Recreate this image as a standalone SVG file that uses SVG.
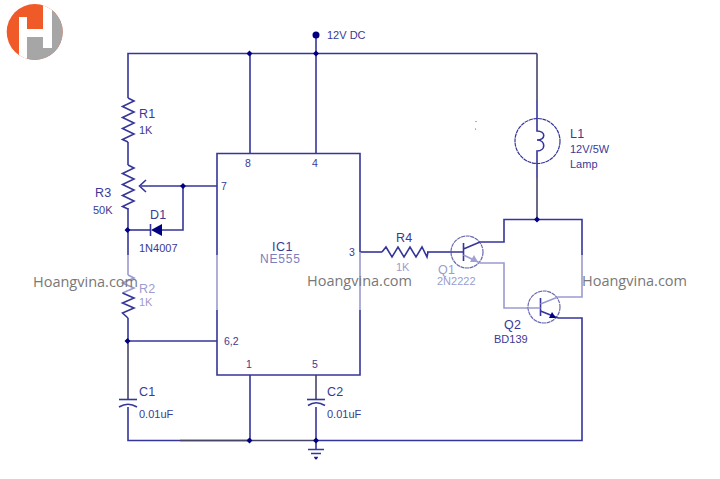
<svg xmlns="http://www.w3.org/2000/svg" width="720" height="479" viewBox="0 0 720 479">
<style>
text{font-family:"Liberation Sans",Arial,sans-serif;fill:#3a3a96}
.w{fill:none;stroke:#35359a;stroke-width:1.6;stroke-linejoin:miter}
.f{fill:none;stroke:#9a9ad0;stroke-width:1.6}
.d{fill:none;stroke:#45456a;stroke-width:1.6}
.j{fill:#000080}
.l{font-size:12.5px;letter-spacing:.3px}
.n{font-size:11px}
.p{font-size:10.5px}
.g{font-size:14.500px;fill:#787878;font-family:"Open Sans",sans-serif}
.q{fill:none;stroke:#35359a;stroke-width:1.2;stroke-dasharray:4 .6}
.fa{fill:#a0a0d4}
.ft{fill:#9c9cd0}
</style>
<rect width="720" height="479" fill="#fff"/>
<g id="logo">
<clipPath id="c"><circle cx="34.700" cy="32" r="28"/></clipPath>
<g clip-path="url(#c)">
<rect x="0" y="0" width="70" height="64" fill="#f05a28"/>
<path d="M52 0H70V64H27V37H52Z" fill="#a6a6a6"/>
<path d="M19 17H27V29H43V0H52V48H43V37H27V64H19Z" fill="#fff"/>
</g>
</g>
<g id="connectors">
<path class="w" d="M128 98V53.500H537"/>
<path class="w" d="M316 35V153"/>
<path class="w" d="M250 53.500V153"/>
<path class="d" d="M537 53.500V100"/>
<path class="w" d="M537 100V120"/>
<path class="w" d="M537 163V178"/>
<path class="d" d="M537 178V219"/>
<path class="w" d="M128 142V165"/>
<path class="w" d="M128 208V255"/>
<path class="f" d="M128 255V275"/>
<path class="w" d="M128 318V341"/>
<path class="d" d="M128 341V399"/>
<path class="w" d="M128 407V440.500H250"/>
<path class="d" d="M180 440.500H316"/>
<path class="w" d="M250 375V440.500"/>
<path class="d" d="M316 375V399"/>
<path class="w" d="M316 407V449"/>
<path class="w" d="M316 440.500H582V318H558"/>
<path class="w" d="M128 341H217"/>
<path class="w" d="M217 186H141"/>
<path class="w" d="M146 180L139.500 186L146 192"/>
<path class="w" d="M183 186V230H162"/>
<path class="w" d="M150 230H128"/>
<path class="w" d="M360 252H382"/>
<path class="w" d="M427 252H451"/>
<path class="w" d="M480 242H504V219.500H582V255"/>
<path class="f" d="M582 255V297H558"/>
<path class="f" d="M480 263H504V308H528"/>
</g>
<g id="ic1">
<path class="w" d="M217 255V153.500H360V252"/>
<path class="f" d="M217 255V310M360 252V310"/>
<path class="w" d="M217 310V375H360V310"/>
<text class="p" x="245" y="167">8</text>
<text class="p" x="312" y="167">4</text>
<text class="p" x="221" y="190">7</text>
<text class="p" x="224" y="345">6,2</text>
<text class="p" x="349" y="256">3</text>
<text class="p" x="246" y="368">1</text>
<text class="p" x="312" y="368">5</text>
<text x="272" y="251" font-size="12.500" letter-spacing=".5">IC1</text>
<text x="260" y="263" font-size="12" letter-spacing=".8" style="fill:#7d7dc0">NE555</text>
</g>
<g id="r1">
<path class="w" d="M128 98L134 101L122.500 106.500L134 112L122.500 117.500L134 123L122.500 128.500L134 134L122.500 139.500L128 142"/>
<text class="l" x="139" y="118">R1</text><text class="n" x="139" y="134">1K</text>
</g>
<g id="r3">
<path class="w" d="M128 165L134 168L122.500 173.500L134 179L122.500 184.500L134 190L122.500 195.500L134 201L122.500 206.500L128 209"/>
<text class="l" x="95" y="197">R3</text><text class="n" x="93" y="214">50K</text>
</g>
<g id="d1">
<path class="j" d="M162 224V236L151 230Z"/>
<path class="w" d="M150.500 224V236"/>
<text class="l" x="150" y="219">D1</text>
<text class="n" x="139" y="252">1N4007</text>
</g>
<g id="r2">
<path class="f" d="M128 275L134 278L122.500 283L134 288L122.500 293"/>
<path class="w" d="M122.500 293L134 298L122.500 303L134 308L122.500 313L128 318"/>
<text class="l ft" x="139" y="293">R2</text><text class="n ft" x="139" y="306">1K</text>
</g>
<g id="c1">
<path class="w" d="M119 399.500H137"/>
<path class="w" d="M119 407Q128 401.500 137 407"/>
<text class="l" x="139" y="396">C1</text><text class="n" x="139" y="418">0.01uF</text>
</g>
<g id="c2">
<path class="w" d="M307 399.500H325"/>
<path class="w" d="M308 405.500Q316 400 325 405.500"/>
<text class="l" x="327" y="396">C2</text><text class="n" x="327" y="418">0.01uF</text>
</g>
<g id="gnd">
<path class="w" d="M308 449.500H324M311 453.500H321M314 457.500H318"/>
<circle class="j" cx="316" cy="458.500" r="1"/>
</g>
<g id="l1">
<circle class="q" cx="537.500" cy="141" r="22.500"/>
<path class="w" d="M537 120V131C546 131 546 140 537 140C546 140 546 151 537 151V163"/>
<text class="l" x="570" y="138" letter-spacing="1">L1</text>
<text class="n" x="570" y="153">12V/5W</text>
<text class="n" x="570" y="168">Lamp</text>
</g>
<g id="r4">
<path class="w" d="M382 252L386 247L392 257L398 247L404 257L410 247L416 257L422 247L427 257L428 252"/>
<text class="l" x="396" y="242">R4</text><text class="n ft" x="396" y="271">1K</text>
</g>
<g id="q1">
<circle class="q" cx="467" cy="252" r="16" style="stroke:#6a6ab0"/>
<path class="w" d="M463.500 243V261M451 252H463.500M463.500 249L480 242"/>
<path class="f" d="M463.500 255L480 263"/>
<path class="fa" d="M478 262L470 262L474 255Z"/>
<text class="l ft" x="438" y="274">Q1</text><text class="n ft" x="437" y="285">2N2222</text>
</g>
<g id="q2">
<circle class="q" cx="544" cy="307" r="16" style="stroke:#6a6ab0"/>
<path class="w" d="M540.500 298V316"/>
<path class="f" d="M528 308H540.500M540.500 304L558 297"/>
<path class="w" d="M540.500 311L558 318"/>
<path class="j" d="M556 318L549 318L552 312Z"/>
<text class="l" x="504" y="329">Q2</text><text class="n" x="494" y="343">BD139</text>
</g>
<g id="junctions">
<circle class="j" cx="316" cy="35" r="3.500"/>
<path class="j" d="M316 50.500l3 3l-3 3l-3-3zM249.500 50.500l3 3l-3 3l-3-3zM127.500 227l3 3l-3 3l-3-3zM183 183l3 3l-3 3l-3-3zM127.500 338l3 3l-3 3l-3-3zM249.500 437.500l3 3l-3 3l-3-3zM316 437.500l3 3l-3 3l-3-3zM537 216.500l3 3l-3 3l-3-3z"/>
<text class="n" x="327" y="39">12V DC</text>
<circle cx="476" cy="121.500" r=".6" fill="#555"/><circle cx="475.500" cy="129" r=".6" fill="#555"/>
</g>
<g id="watermarks">
<text class="g" x="33" y="287">Hoangvina.com</text>
<text class="g" x="307" y="286">Hoangvina.com</text>
<text class="g" x="582" y="286">Hoangvina.com</text>
</g>
</svg>
